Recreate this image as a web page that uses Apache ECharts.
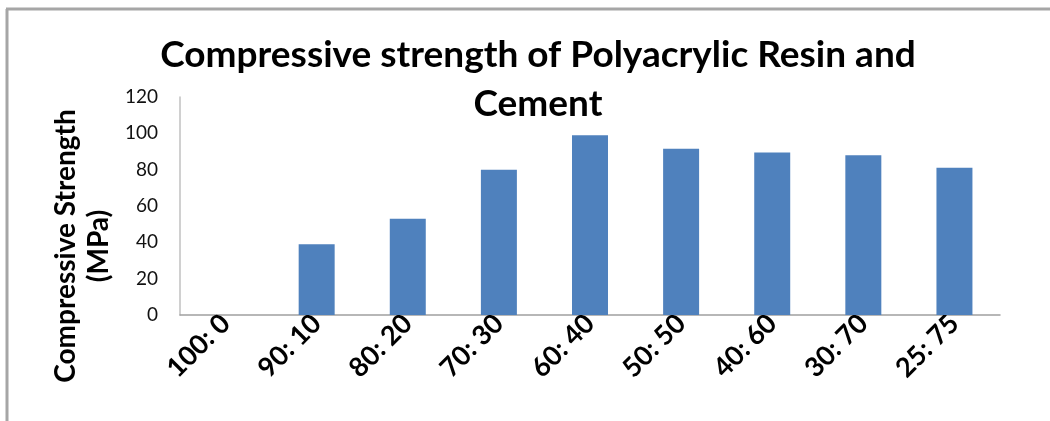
<!DOCTYPE html>
<html>
<head>
<meta charset="utf-8">
<script src="https://cdn.jsdelivr.net/npm/echarts@6/dist/echarts.min.js"></script>
<style>
html,body{margin:0;padding:0;background:#fff;}
#c{width:1050px;height:421px;}
</style>
</head>
<body>
<div id="c"></div>
<script>
const categories = ['100: 0','90: 10','80: 20','70: 30','60: 40','50: 50','40: 60','30: 70','25: 75'];
const strength = [0, 39, 53, 80, 99, 91.5, 89.5, 88, 81];
const titleText = 'Compressive strength of Polyacrylic Resin and\nCement';
const yTitle = 'Compressive Strength\n(MPa)';

const chart = echarts.init(document.getElementById('c'), null, {renderer:'canvas'});
chart.setOption({
  animation:false,
  backgroundColor:'#fff',
  title:{
    text:titleText,
    left:533, textAlign:'center', top:26,
    textStyle:{fontFamily:'Lato', fontWeight:'bold', fontSize:37, color:'#000', lineHeight:49}
  },
  graphic:[
    {type:'line', shape:{x1:6,y1:9,x2:1050,y2:9}, style:{stroke:'#a6a6a6', lineWidth:3}},
    {type:'line', shape:{x1:7,y1:9,x2:7,y2:421}, style:{stroke:'#a6a6a6', lineWidth:3}},
    {type:'text', x:82, y:246, rotation:Math.PI/2, style:{text:yTitle, fontFamily:'Lato', fontWeight:'bold', fontSize:28, fill:'#000', align:'center', verticalAlign:'middle', lineHeight:33}}
  ],
  grid:{left:180, right:50, top:97, bottom:106},
  xAxis:{
    type:'category', data:categories,
    axisLine:{lineStyle:{color:'#a0a0a0', width:1.5}},
    axisTick:{show:false},
    axisLabel:{rotate:45, interval:0, fontFamily:'Lato', fontWeight:'bold', fontSize:27, color:'#000', margin:4}
  },
  yAxis:{
    type:'value', min:0, max:120, interval:20,
    axisLine:{show:true, lineStyle:{color:'#c0c0c0', width:1.5}},
    axisTick:{show:false},
    splitLine:{show:false},
    axisLabel:{fontFamily:'Lato', fontSize:19, color:'#111', margin:22}
  },
  series:[{
    type:'bar', data:strength, barWidth:'39.5%',
    itemStyle:{color:'#4f81bd'}
  }]
});
</script>
</body>
</html>
